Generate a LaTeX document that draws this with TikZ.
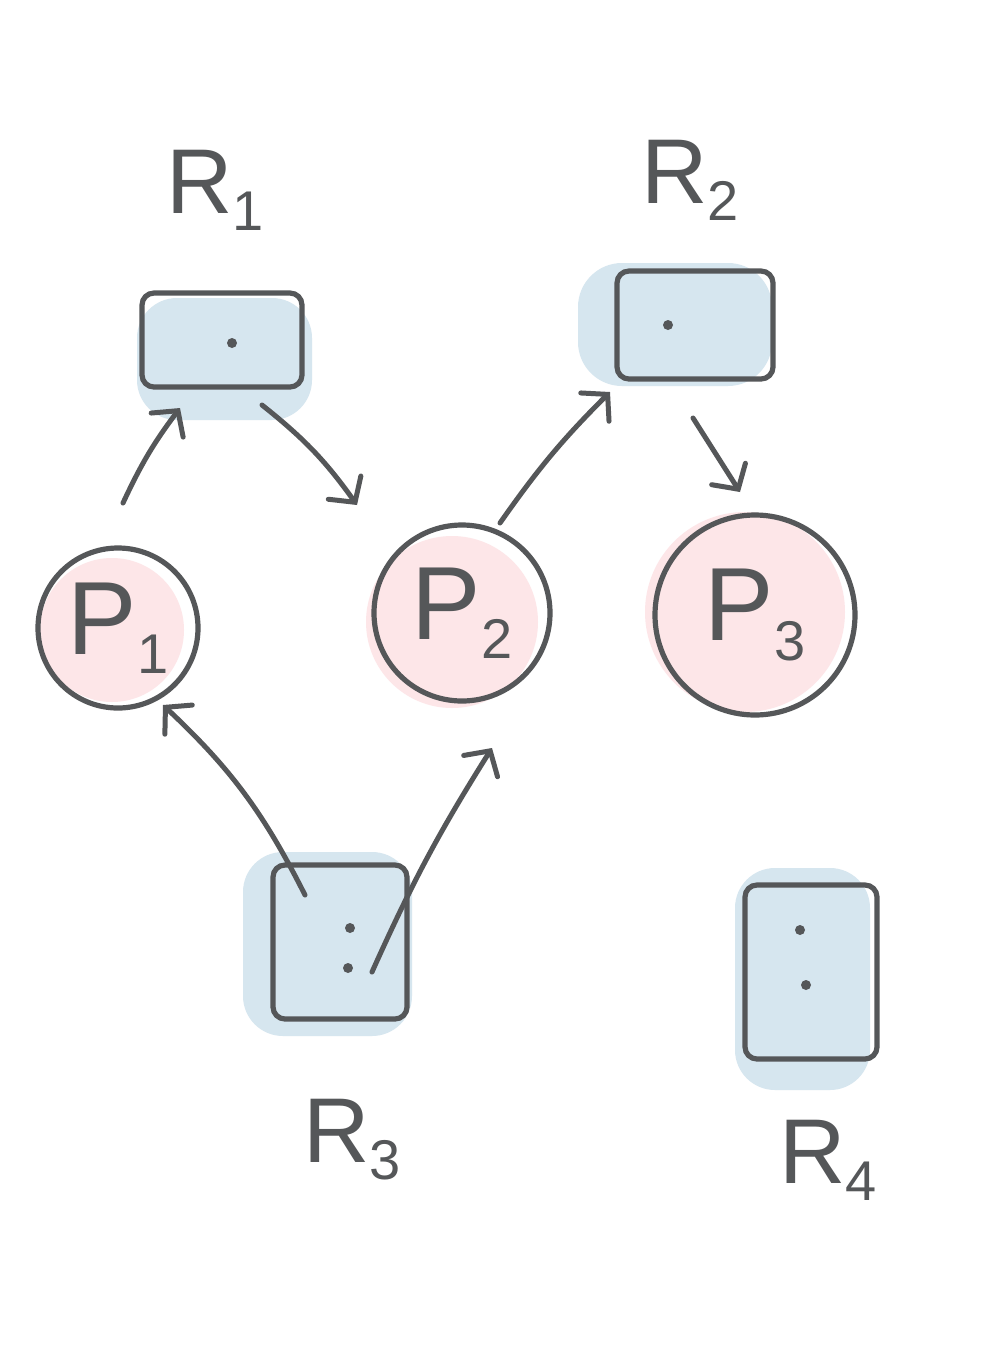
\documentclass[tikz,border=0pt]{standalone}
\usepackage{fontspec}
\setmainfont{Liberation Sans}
\usetikzlibrary{arrows.meta,calc}
\definecolor{ink}{HTML}{555759}
\definecolor{rblue}{HTML}{D6E6EF}
\definecolor{ppink}{HTML}{FDE6E8}
\tikzset{
  res/.style={draw=ink, line width=2.6pt, rounded corners=6pt, inner sep=0pt},
  proc/.style={draw=ink, circle, line width=2.6pt, inner sep=0pt, text=ink,
    font=\fontsize{52}{60}\selectfont},
  lbl/.style={text=ink, font=\fontsize{46}{54}\selectfont},
  inst/.style={circle, fill=ink, inner sep=0pt, minimum size=5pt},
  edge/.style={draw=ink, line width=2.5pt, line cap=round,
    -{Straight Barb[length=9pt,width=20pt,line cap=round]}},
}
\newcommand{\sub}[1]{\raisebox{-0.35ex}{\fontsize{28}{30}\selectfont #1}}
\begin{document}
\begin{tikzpicture}[x=0.5pt,y=-0.5pt]
\fill[white] (0,0) rectangle (1000,1372);
\useasboundingbox (0,0) rectangle (1000,1372);
% blobs
\fill[rblue, rounded corners=20pt] (137,298) rectangle (312,420);
\fill[rblue, rounded corners=22pt] (578,263) rectangle (772,386);
\fill[rblue, rounded corners=20pt] (243,852) rectangle (412,1036);
\fill[rblue, rounded corners=20pt] (735,868) rectangle (870,1090);
\fill[ppink] (112,630) circle (72);
\fill[ppink] (452,622) circle (86);
\fill[ppink] (745,612) circle (100);
% resources
\node[res, minimum width=80pt, minimum height=47pt] (R1) at (222,340) {};
\node[res, minimum width=78pt, minimum height=54pt] (R2) at (695,325) {};
\node[res, minimum width=67pt, minimum height=77pt] (R3) at (340,942) {};
\node[res, minimum width=66pt, minimum height=87pt] (R4) at (811,972) {};
% instances
\node[inst] (r1a) at (232,343) {};
\node[inst] (r2a) at (668,325) {};
\node[inst] (r3a) at (350,928) {};
\node[inst] (r3b) at (348,968) {};
\node[inst] (r4a) at (800,930) {};
\node[inst] (r4b) at (806,985) {};
% processes
\node[proc, minimum size=80pt] (P1) at (118,628) {P\sub{1}};
\node[proc, minimum size=88pt] (P2) at (462,613) {P\sub{2}};
\node[proc, minimum size=100pt] (P3) at (755,615) {P\sub{3}};
% labels
\node[lbl] (L1) at (215,190) {R\sub{1}};
\node[lbl] (L2) at (690,180) {R\sub{2}};
\node[lbl] (L3) at (352,1140) {R\sub{3}};
\node[lbl] (L4) at (828,1160) {R\sub{4}};
% edges
\draw[edge] ($(P1.center)+(5,-125)$) to[bend left=6] ($(R1.center)+(-42,68)$);
\draw[edge] ($(R1.center)+(40,65)$) to[bend left=8] ($(P2.center)+(-105,-108)$);
\draw[edge] ($(P2.center)+(38,-90)$) to[bend left=5] ($(R2.center)+(-85,67)$);
\draw[edge] ($(R2.center)+(-2,93)$) -- ($(P3.center)+(-15,-123)$);
\draw[edge] ($(R3.center)+(-35,-47)$) to[bend right=10] ($(P1.center)+(45,77)$);
\draw[edge] ($(R3.center)+(32,30)$) to[bend left=4] ($(P2.center)+(30,135)$);
\end{tikzpicture}
\end{document}
